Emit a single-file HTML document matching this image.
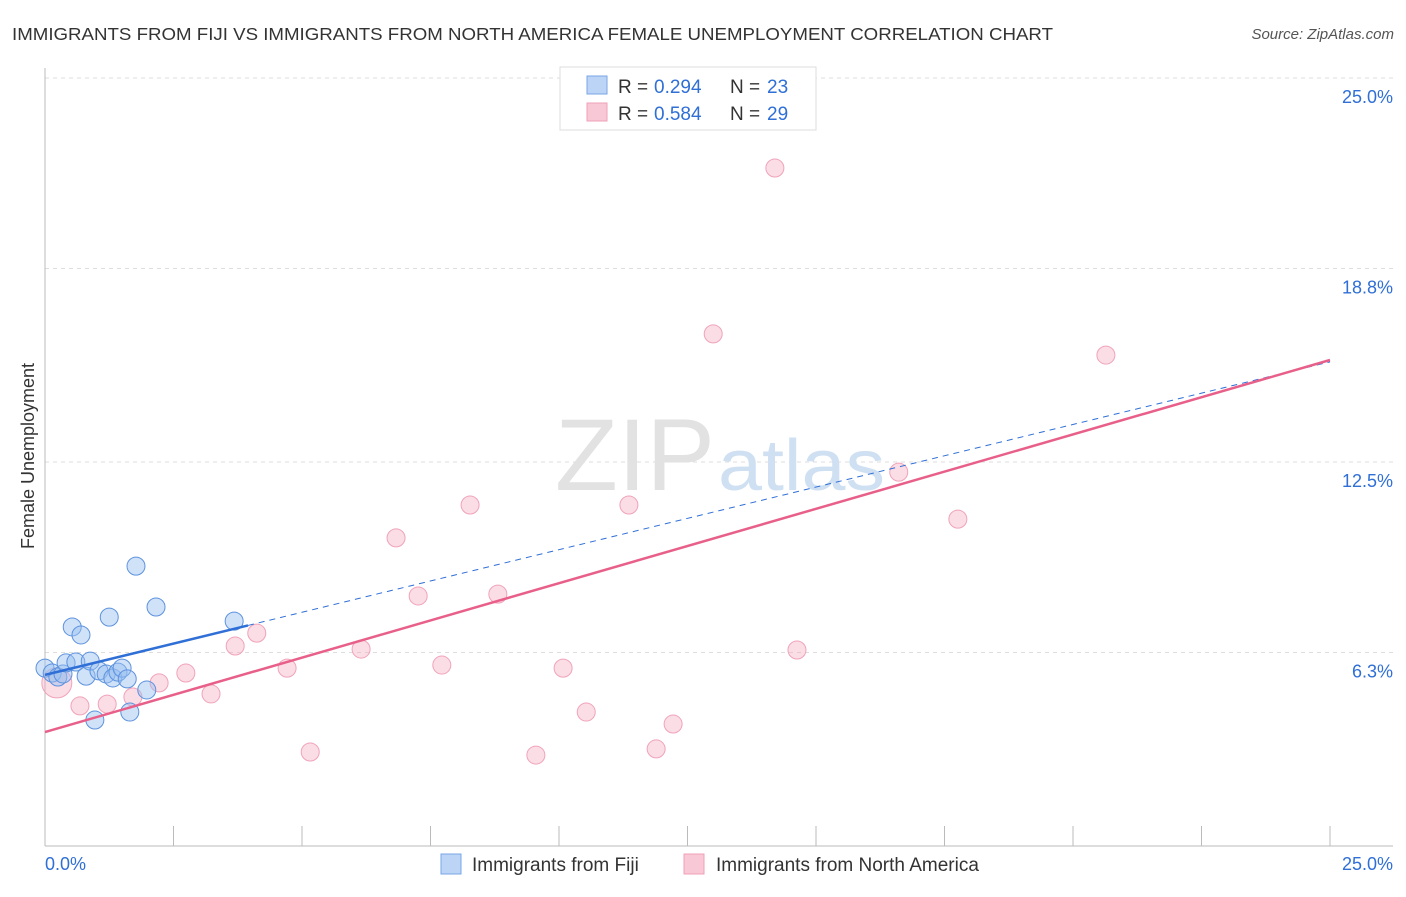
<!DOCTYPE html>
<html><head><meta charset="utf-8"><style>
body{margin:0;background:#fff;font-family:"Liberation Sans",sans-serif}
svg text{font-family:"Liberation Sans",sans-serif}
</style></head><body>
<svg width="1406" height="892">
<text x="12" y="40" font-size="17.5" fill="#333" textLength="1041" lengthAdjust="spacingAndGlyphs">IMMIGRANTS FROM FIJI VS IMMIGRANTS FROM NORTH AMERICA FEMALE UNEMPLOYMENT CORRELATION CHART</text>
<text x="1394" y="39" font-size="15" fill="#555" font-style="italic" text-anchor="end">Source: ZipAtlas.com</text>
<g id="grid"></g>
<text x="555" y="490" font-size="102" fill="#e2e2e2" textLength="160" lengthAdjust="spacingAndGlyphs" font-family="Liberation Serif">ZIP</text>
<text x="718" y="490" font-size="72" fill="#cfe0f3" textLength="167" lengthAdjust="spacingAndGlyphs">atlas</text>
<text transform="translate(34,456) rotate(-90)" font-size="18" fill="#333" text-anchor="middle">Female Unemployment</text>
<g id="marks"></g>
<g>
<rect x="560" y="67" width="256" height="63" fill="#fff" stroke="#ddd"/>
<rect x="587" y="76" width="20" height="18" fill="#bcd4f5" stroke="#7aa6e6"/>
<rect x="587" y="103" width="20" height="18" fill="#f9c8d6" stroke="#f0a0b8"/>
<text x="618" y="93" font-size="19" fill="#333">R = </text><text x="654" y="93" font-size="19" fill="#2f6fd6">0.294</text>
<text x="730" y="93" font-size="19" fill="#333">N = </text><text x="767" y="93" font-size="19" fill="#2f6fd6">23</text>
<text x="618" y="120" font-size="19" fill="#333">R = </text><text x="654" y="120" font-size="19" fill="#2f6fd6">0.584</text>
<text x="730" y="120" font-size="19" fill="#333">N = </text><text x="767" y="120" font-size="19" fill="#2f6fd6">29</text>
</g>
<g>
<rect x="441" y="854" width="20" height="20" fill="#bcd4f5" stroke="#7aa6e6"/>
<text x="472" y="871" font-size="19" fill="#333">Immigrants from Fiji</text>
<rect x="684" y="854" width="20" height="20" fill="#f9c8d6" stroke="#f0a0b8"/>
<text x="716" y="871" font-size="19" fill="#333">Immigrants from North America</text>
</g>
</svg>
<script>
const yTicks=[25.0,18.8,12.5,6.3];
const yTickLabels=["25.0%","18.8%","12.5%","6.3%"];
const xTickCount=10;
const fijiX=[0.00,0.14,0.25,0.35,0.41,0.53,0.60,0.70,0.80,0.88,0.97,1.05,1.19,1.25,1.32,1.42,1.50,1.60,1.65,1.77,1.98,2.16,3.68];
const fijiY=[5.79,5.63,5.50,5.60,5.96,7.13,5.99,6.87,5.53,6.02,4.10,5.70,5.60,7.45,5.47,5.66,5.79,5.44,4.36,9.11,5.08,7.78,7.32];
const naX=[0.23,0.68,1.21,1.71,2.22,2.74,3.23,3.70,4.12,4.71,5.16,6.15,6.83,7.26,7.72,8.27,8.81,9.55,10.08,10.53,11.36,11.89,12.22,13.00,14.20,14.63,16.61,17.76,20.64];
const naY=[5.31,4.56,4.62,4.85,5.31,5.63,4.95,6.51,6.93,5.79,3.06,6.41,10.03,8.14,5.89,11.10,8.20,2.96,5.79,4.36,11.10,3.16,3.97,16.67,22.07,6.38,12.17,10.64,15.98];
const fijiLine=[5.57,15.76];
const naLine=[3.71,15.82];
const NS="http://www.w3.org/2000/svg";
const X=v=>45+v*51.4, Y=v=>846-v*30.72;
function mk(t,a,p){const e=document.createElementNS(NS,t);for(const k in a)e.setAttribute(k,a[k]);p.appendChild(e);return e;}
const g=document.getElementById('grid');
yTicks.forEach((v,i)=>{
 const l=mk('line',{x1:45,x2:1393,y1:Y(v),y2:Y(v),stroke:'#ddd','stroke-dasharray':'4,4'},g);
 
 
 const t=mk('text',{x:1393,y:Y(v)+25,'font-size':18,fill:'#2f6fd6','text-anchor':'end'},g);
 t.textContent=yTickLabels[i];
 
 
});
const ax=mk('line',{x1:45,x2:45,y1:68,y2:846,stroke:'#bbb'},g);


const bx=mk('line',{x1:45,x2:1393,y1:846,y2:846,stroke:'#bbb'},g);


for(let i=1;i<=xTickCount;i++){const xx=X(25*i/xTickCount);
 const t=mk('line',{x1:xx,x2:xx,y1:826,y2:846,stroke:'#bbb'},g);
 
 }
const x0=mk('text',{x:45,y:870,'font-size':18,fill:'#2f6fd6'},g);x0.textContent='0.0%';


const x1=mk('text',{x:1393,y:870,'font-size':18,fill:'#2f6fd6','text-anchor':'end'},g);x1.textContent='25.0%';


const m=document.getElementById('marks');
naX.forEach((v,i)=>{const c=mk('circle',{cx:X(v),cy:Y(naY[i]),r:i==0?15:9,fill:'rgba(246,170,192,0.4)',stroke:'#f0a3ba','stroke-width':1},m);
 
 });
fijiX.forEach((v,i)=>{const c=mk('circle',{cx:X(v),cy:Y(fijiY[i]),r:9,fill:'rgba(150,190,240,0.45)',stroke:'#5d92de','stroke-width':1},m);
 
 });
const fx=v=>fijiLine[0]+(fijiLine[1]-fijiLine[0])*v/25;
const fd=mk('line',{x1:X(3.95),y1:Y(fx(3.95)),x2:X(25),y2:Y(fx(25)),stroke:'#2f6fd6','stroke-width':1,'stroke-dasharray':'6,5'},m);


const fs=mk('line',{x1:X(0),y1:Y(fx(0)),x2:X(3.95),y2:Y(fx(3.95)),stroke:'#2f6fd6','stroke-width':2.5},m);


const nl=mk('line',{x1:X(0),y1:Y(naLine[0]),x2:X(25),y2:Y(naLine[1]),stroke:'#e8608a','stroke-width':2.5},m);


</script>
</body></html>
